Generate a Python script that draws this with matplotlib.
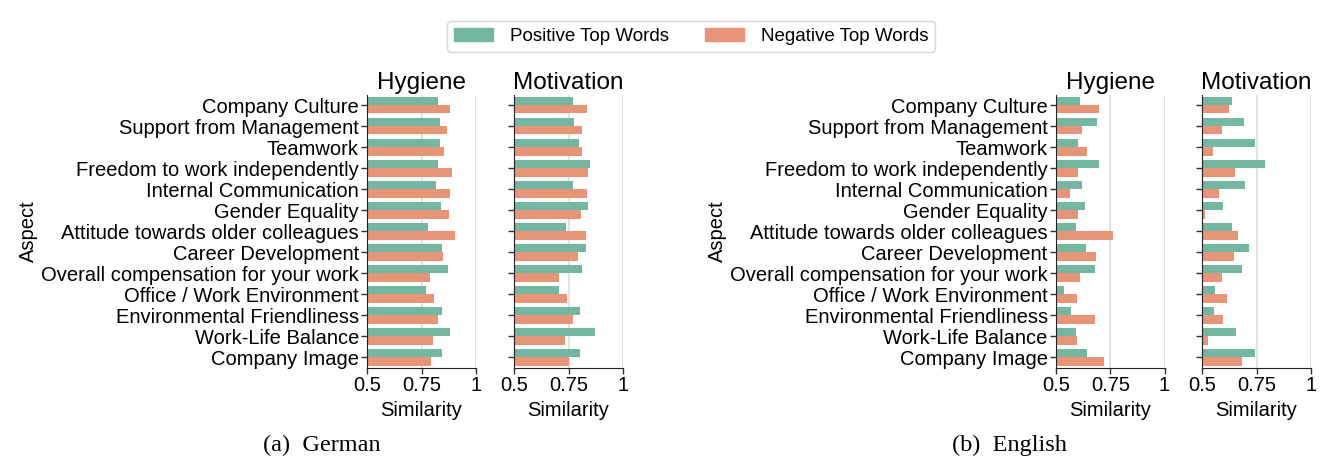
import numpy as np
import matplotlib
matplotlib.use("Agg")
import matplotlib.pyplot as plt
from matplotlib.patches import Patch

aspects = ["Company Culture", "Support from Management", "Teamwork",
           "Freedom to work independently", "Internal Communication",
           "Gender Equality", "Attitude towards older colleagues",
           "Career Development", "Overall compensation for your work",
           "Office / Work Environment", "Environmental Friendliness",
           "Work-Life Balance", "Company Image"]

# German
de_hyg_pos = [0.828, 0.835, 0.834, 0.828, 0.817, 0.840, 0.778, 0.842, 0.872, 0.771, 0.846, 0.882, 0.845]
de_hyg_neg = [0.882, 0.866, 0.855, 0.889, 0.883, 0.877, 0.905, 0.851, 0.791, 0.806, 0.825, 0.805, 0.792]
de_mot_pos = [0.770, 0.773, 0.796, 0.847, 0.772, 0.841, 0.738, 0.829, 0.813, 0.708, 0.801, 0.872, 0.801]
de_mot_neg = [0.833, 0.813, 0.810, 0.840, 0.836, 0.806, 0.832, 0.792, 0.705, 0.741, 0.769, 0.735, 0.753]

# English
en_hyg_pos = [0.612, 0.687, 0.603, 0.699, 0.618, 0.635, 0.590, 0.640, 0.681, 0.535, 0.567, 0.594, 0.643]
en_hyg_neg = [0.699, 0.621, 0.644, 0.603, 0.564, 0.601, 0.761, 0.684, 0.612, 0.598, 0.681, 0.598, 0.722]
en_mot_pos = [0.639, 0.692, 0.741, 0.787, 0.698, 0.596, 0.637, 0.716, 0.683, 0.559, 0.553, 0.654, 0.742]
en_mot_neg = [0.622, 0.593, 0.549, 0.651, 0.576, 0.511, 0.665, 0.646, 0.590, 0.613, 0.596, 0.526, 0.684]

xticks = [0.5, 0.75, 1.0]
xticklabels = ["0.5", "0.75", "1"]

green = "#71b7a1"
orange = "#e99575"

plt.rcParams['font.family'] = ['Liberation Sans', 'DejaVu Sans']
FS = 14.5

fig = plt.figure(figsize=(13.22, 4.63), dpi=100)

W, H = 1322, 463
bottom = 1 - 368 / H
height = (368 - 94.5) / H
lefts = [367.3, 514.3, 1056.0, 1202.3]
width = 108.5 / W

panels = [
    ("Hygiene", de_hyg_pos, de_hyg_neg, True),
    ("Motivation", de_mot_pos, de_mot_neg, False),
    ("Hygiene", en_hyg_pos, en_hyg_neg, True),
    ("Motivation", en_mot_pos, en_mot_neg, False),
]

y = np.arange(len(aspects))
for (title, pos, neg, show_labels), lx in zip(panels, lefts):
    ax = fig.add_axes([lx / W, bottom, width, height])
    ax.barh(y - 0.2, pos, height=0.4, color=green, zorder=2)
    ax.barh(y + 0.2, neg, height=0.4, color=orange, zorder=2)
    ax.set_xlim(0.5, 1.0)
    ax.set_ylim(len(aspects) - 0.5, -0.5)
    ax.set_xticks(xticks)
    ax.set_xticklabels(xticklabels, fontsize=FS)
    ax.set_yticks(y)
    if show_labels:
        ax.set_yticklabels(aspects, fontsize=FS)
        ax.set_ylabel("Aspect", fontsize=FS, labelpad=2)
    else:
        ax.set_yticklabels([])
    ax.set_xlabel("Similarity", fontsize=FS, labelpad=4)
    ax.set_title(title, fontsize=17.5, pad=4)
    ax.xaxis.grid(True, color="#dddddd", linewidth=1.2, zorder=0)
    ax.set_axisbelow(True)
    for s in ["top", "right"]:
        ax.spines[s].set_visible(False)
    ax.spines["left"].set_color("#222222")
    ax.spines["bottom"].set_color("#222222")
    ax.tick_params(axis="both", length=4, width=1, color="#333333", pad=2)

handles = [Patch(color=green, label="Positive Top Words"),
           Patch(color=orange, label="Negative Top Words")]
leg = fig.legend(handles=handles, loc="upper center", bbox_to_anchor=(691 / W, 1 - 12 / H),
                 ncol=2, fontsize=13.5, frameon=True, handlelength=2.1, columnspacing=1.9,
                 borderpad=0.35, handletextpad=0.9)
leg.get_frame().set_edgecolor("#cccccc")

fig.text(322 / W, 1 - 445 / H, "(a)  German", family=["Liberation Serif", "DejaVu Serif"],
         fontsize=17.5, ha="center", va="center")
fig.text(1009 / W, 1 - 445 / H, "(b)  English", family=["Liberation Serif", "DejaVu Serif"],
         fontsize=17.5, ha="center", va="center")

fig.savefig("out.png", dpi=100)
